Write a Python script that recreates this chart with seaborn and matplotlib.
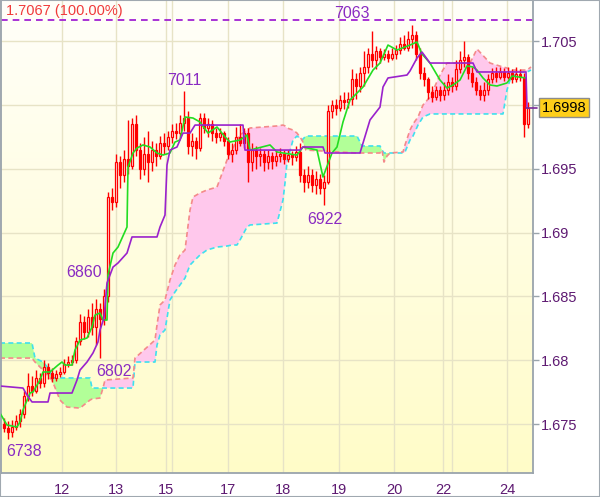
import numpy as np
import pandas as pd
import matplotlib
matplotlib.use("Agg")
import matplotlib.pyplot as plt
import matplotlib.transforms as mtransforms
from matplotlib.patches import Rectangle
import seaborn as sns

# ---------------- data (prices as pips above BASE) ----------------
BASE = 1.6
PIP = 10000.0

OPEN = [750, 747, 744, 748, 752, 758, 772, 780, 776, 786, 782, 795, 790, 786, 789, 791,
        797, 799, 800, 815, 830, 822, 834, 826, 840, 832, 850, 928, 924, 955, 945, 958,
        952, 985, 965, 950, 962, 955, 965, 960, 970, 968, 975, 980, 978, 986, 990, 968,
        972, 966, 990, 982, 985, 978, 975, 978, 972, 962, 965, 975, 970, 978, 955, 965,
        960, 962, 955, 960, 956, 960, 962, 958, 961, 959, 963, 945, 940, 945, 937, 942,
        935, 940, 995, 1000, 998, 1004, 1002, 1005, 1020, 1015, 1025, 1030, 1040, 1035, 1042, 1038,
        1040, 1037, 1040, 1043, 1048, 1045, 1052, 1055, 1040, 1025, 1020, 1010, 1006, 1012, 1008, 1012,
        1018, 1015, 1028, 1035, 1038, 1025, 1018, 1012, 1008, 1012, 1020, 1025, 1022, 1026, 1022, 1025,
        1020, 1024, 1022, 985]
CLOSE = [747, 744, 748, 752, 758, 772, 780, 776, 786, 782, 795, 790, 786, 789, 791, 797,
         799, 800, 815, 830, 822, 834, 826, 840, 832, 850, 928, 924, 955, 945, 958, 952,
         985, 965, 950, 962, 955, 965, 960, 970, 968, 975, 980, 978, 986, 990, 968, 972,
         966, 990, 982, 985, 978, 975, 978, 972, 962, 965, 975, 970, 978, 955, 965, 960,
         962, 955, 960, 956, 960, 962, 958, 961, 959, 963, 945, 940, 945, 937, 942, 935,
         940, 995, 1000, 998, 1004, 1002, 1005, 1020, 1015, 1025, 1030, 1040, 1035, 1042, 1038, 1040,
         1037, 1040, 1043, 1048, 1045, 1052, 1055, 1040, 1025, 1020, 1010, 1006, 1012, 1008, 1012, 1018,
         1015, 1028, 1035, 1038, 1025, 1018, 1012, 1008, 1012, 1020, 1025, 1022, 1026, 1022, 1025, 1020,
         1024, 1022, 985, 998]
HIGH = [755, 752, 753, 757, 762, 776, 790, 788, 792, 790, 800, 798, 794, 792, 795, 801,
        803, 804, 818, 836, 835, 840, 845, 848, 845, 856, 932, 935, 962, 960, 965, 988,
        990, 992, 970, 975, 980, 972, 970, 976, 978, 980, 985, 986, 992, 1011, 995, 978,
        975, 994, 994, 990, 988, 982, 982, 980, 975, 970, 983, 985, 982, 982, 970, 968,
        966, 965, 965, 963, 964, 966, 965, 965, 964, 968, 970, 950, 952, 950, 948, 946,
        945, 1000, 1004, 1005, 1008, 1010, 1010, 1028, 1025, 1030, 1042, 1045, 1058, 1046, 1045, 1044,
        1043, 1045, 1047, 1053, 1055, 1058, 1063, 1058, 1045, 1030, 1022, 1015, 1015, 1015, 1018, 1024,
        1022, 1035, 1042, 1050, 1040, 1030, 1022, 1016, 1018, 1024, 1029, 1030, 1030, 1029, 1030, 1028,
        1030, 1028, 1025, 1002]
LOW = [744, 738, 740, 745, 748, 755, 768, 772, 774, 778, 779, 785, 783, 784, 787, 789,
       795, 796, 798, 812, 817, 818, 820, 812, 802, 828, 846, 918, 920, 935, 940, 946,
       950, 960, 942, 945, 940, 948, 952, 958, 962, 965, 970, 973, 975, 980, 962, 960,
       958, 964, 978, 975, 972, 970, 972, 968, 958, 955, 962, 968, 966, 940, 948, 950,
       952, 948, 950, 950, 952, 955, 954, 955, 953, 956, 940, 932, 935, 932, 930, 930,
       922, 938, 990, 992, 995, 997, 998, 1000, 1005, 1010, 1015, 1025, 1030, 1028, 1033, 1035,
       1034, 1035, 1036, 1040, 1043, 1042, 1045, 1035, 1020, 1015, 1005, 1002, 1004, 1003, 1004, 1008,
       1010, 1012, 1025, 1030, 1020, 1014, 1008, 1004, 1003, 1008, 1017, 1018, 1020, 1019, 1020, 1017,
       1018, 1019, 975, 982]

# Tenkan-sen (green) vertices: bar position, pips
TENKAN_X = [-1, 0.75, 3.25, 4, 4.75, 6.5, 7.25, 9, 9.75, 11.5, 13.5, 14.5, 15.25, 17, 17.75, 19,
            20.75, 22, 22.75, 24, 24.75, 25.75, 26, 27.25, 28.5, 30.75, 31, 32.25, 33.25, 34.75, 36.5, 38.25,
            39.75, 41.5, 42.75, 44, 45.25, 47.25, 49, 51, 53.25, 55.25, 56.5, 59, 60.75, 61.5, 66.5, 68.25,
            69.75, 73.25, 74.75, 78.25, 79.75, 82, 83.25, 84.75, 86.5, 89.75, 92.25, 94, 96, 98.25, 101.5, 103.25,
            104.5, 106.5, 109, 110.75, 112.25, 114, 115.75, 117.25, 118.25, 119.75, 121.5, 123.25, 125.75, 127, 130.5]
TENKAN_Y = [758.6, 749.2, 747.7, 751.6, 761, 774.3, 775.1, 784.5, 790.8, 790.8, 796.2, 798.6, 796.2, 796.2, 808, 815.8,
            817.4, 826, 835.4, 837, 831.5, 831.5, 866.8, 884, 888.7, 904.4, 951.4, 962.4, 966.3, 968.7, 967.1, 962.4,
            960.8, 962.4, 971, 972.6, 990.6, 989.8, 986.7, 978, 982.8, 975, 971, 972.6, 976.5, 964.7, 968.7, 963.2,
            962.4, 960.8, 967.1, 964.7, 943.6, 962.4, 967.1, 986.7, 1003.9, 1014.1, 1027.4, 1032.9, 1047, 1043.1, 1047, 1049.4,
            1040, 1032.9, 1019.6, 1013.3, 1015.7, 1019.6, 1030.6, 1029.8, 1027.4, 1021.2, 1015.7, 1014.9, 1017.3, 1022.7, 1021.2]

# Kijun-sen (purple) vertices
KIJUN_X = [-1, 4.75, 5.75, 7, 11, 11.5, 17, 18.25, 19, 20.75, 22.25, 23.5, 24, 25, 25.75, 27.25,
           28.5, 30.75, 32, 38.25, 39, 40.25, 40.75, 41.5, 43.25, 44.75, 46.5, 47.75, 59.75, 60.25, 74, 74.75,
           79.75, 80.25, 89, 91.5, 94, 94.75, 96, 100.75, 101.5, 103.25, 104.5, 106.5, 117.25, 118.25, 130.5, 130.75]
KIJUN_Y = [779.8, 778.2, 772.7, 767.3, 767.3, 774.3, 774.3, 784.5, 792.3, 798.6, 805.7, 814.3, 823.7, 833.1, 860.5, 873,
           876.2, 884, 896.6, 896.6, 904.4, 913.8, 953, 964.7, 967.1, 978, 978, 984.3, 984.3, 964.7, 964.7, 967.1,
           967.1, 962.4, 962.4, 988.3, 998.4, 1014.1, 1021.2, 1023.5, 1026.7, 1036.8, 1041.5, 1032.9, 1032.9, 1025.9, 1025.9, 997.7]

# Senkou span A (cyan) and B (salmon) on common vertices
SPAN_X = [-1, 7, 7.75, 9.75, 11.5, 12, 14, 15.75, 19, 21.5, 22, 24, 24.75, 25.25, 32.25, 32.75,
          37.75, 38.25, 39, 40.25, 41.5, 42.75, 44, 45.25, 46.5, 47.25, 49, 50.75, 53.25, 55.75, 57, 58.25,
          59, 60.75, 61.5, 68.25, 69.75, 70.25, 70.75, 72.25, 73.25, 74.5, 75.5, 88.25, 89.5, 94, 94.5, 95,
          95.75, 96.5, 99.75, 100.25, 101.5, 102.25, 103.5, 104.75, 106.5, 109, 110.75, 116.5, 118.25, 121.5, 124.75, 125.75,
          126.5, 128.25, 130.75, 131.75]
SPAN_A = [813.5, 813.5, 801.7, 798.6, 792.3, 786.1, 786.1, 786.1, 786.1, 786.1, 778.2, 778.2, 778.2, 778.2, 778.2, 798.6,
          798.6, 811.9, 819.8, 823.7, 847.2, 853.5, 859, 864.4, 874.6, 877, 882.5, 886.4, 888.7, 889.5, 890.3, 890.3,
          894.2, 904.4, 906, 907.5, 925.6, 938.9, 955.3, 972.6, 975.7, 972.6, 975.7, 975.7, 967.9, 967.9, 964.7, 962.4,
          962.4, 962.4, 962.4, 963.2, 972.6, 975.7, 984.3, 990.6, 993, 993, 993, 993, 993, 993, 993, 1011.8,
          1019.6, 1025.1, 1025.9, 1027.4]
SPAN_B = [801.7, 801.7, 798.6, 792.3, 786.1, 784.5, 768.8, 763.3, 762.5, 768.8, 769.6, 770.4, 778.2, 784.5, 786.1, 801.7,
          815.8, 827.6, 843.3, 847.2, 862.9, 874.6, 882.5, 886.4, 917.7, 927.9, 931.1, 933.4, 935.7, 956.9, 964.7, 972.6,
          976.5, 980.4, 982, 983.6, 984.3, 983.6, 982, 980.4, 978, 972.6, 964.7, 962.4, 962.4, 962.4, 964.7, 955.3,
          960.0, 962.4, 963.2, 968.7, 980.4, 985.1, 990.6, 1000, 1006.3, 1023.5, 1032.9, 1032.9, 1043.9, 1032.9, 1029.8, 1029,
          1027.4, 1027.4, 1027.4, 1029.8]

X_TICK_POS = [14.5, 28, 40.5, 56, 69.75, 83.75, 97.5, 109.75, 125.75]
X_TICK_LABELS = ["12", "13", "15", "17", "18", "19", "20", "22", "24"]
EXTRA_VGRID = [42, 112]
Y_TICKS = [1.675, 1.68, 1.685, 1.69, 1.695, 1.7, 1.705]
# the 1.7 label sits behind the last-price box in the reference
Y_TICK_LABELS = ["1.675", "1.68", "1.685", "1.69", "1.695", "", "1.705"]

MAX_LINE = 1.7067
LAST_PRICE = 1.6998
MARKS = ["7063", "7011", "6922", "6860", "6802", "6738"]
MARK_X = [87, 45, 80.25, 20, 27.5, 5]
MARK_PIPS = [1072.1, 1019.6, 909.9, 869.1, 790.8, 728.1]

# ---------------- helpers ----------------
def px(vals):
    return np.array(vals, dtype=float) / PIP + BASE

o, c, h, l = px(OPEN), px(CLOSE), px(HIGH), px(LOW)
idx = np.arange(len(o))
candles = pd.DataFrame({"i": idx, "open": o, "close": c, "high": h, "low": l})

sns.set_style("white")
plt.rcParams["font.family"] = ["Liberation Sans", "DejaVu Sans"]

fig = plt.figure(figsize=(6.0, 4.97), dpi=100)
fig.patch.set_facecolor("white")
ax = fig.add_axes([1 / 600, 24 / 497, 532 / 600, 473 / 497])

XLIM = (-0.75, 132.25)
YLIM = (1.671163, 1.708230)
ax.set_xlim(*XLIM)
ax.set_ylim(*YLIM)

# background gradient
grad = np.linspace(0, 1, 256)[:, None]
top = np.array([255, 255, 250]) / 255.0
bot = np.array([255, 252, 200]) / 255.0
img = top[None, None, :] * (1 - grad[:, :, None]) + bot[None, None, :] * grad[:, :, None]
ax.imshow(img, extent=[XLIM[0], XLIM[1], YLIM[0], YLIM[1]], aspect="auto", origin="upper", zorder=0)

# grid
gcol = "#E7E3C6"
for yv in Y_TICKS:
    ax.axhline(yv, color=gcol, lw=1.0, zorder=0.5)
for xv in X_TICK_POS + EXTRA_VGRID:
    ax.axvline(xv, color=gcol, lw=1.0, zorder=0.5)

# cloud
sx = np.array(SPAN_X)
sa = px(SPAN_A)
sb = px(SPAN_B)
ax.fill_between(sx, sa, sb, where=sa >= sb, interpolate=True, color="#B2FF98", lw=0, zorder=1)
ax.fill_between(sx, sa, sb, where=sb >= sa, interpolate=True, color="#FFC8EC", lw=0, zorder=1)
ax.plot(sx, sa, color="#3FE0EE", lw=1.2, ls=(0, (3, 2)), zorder=1.5)
ax.plot(sx, sb, color="#F48A8A", lw=1.2, ls=(0, (3, 2)), zorder=1.5)

# top dashed max line
ax.axhline(MAX_LINE, color="#9A10D0", lw=1.2, ls=(0, (4, 3)), zorder=2)

# candles
up = candles[candles.close >= candles.open]
dn = candles[candles.close < candles.open]
ax.vlines(candles.i, candles.low, candles.high, color="#FF0000", lw=1.0, zorder=3)
W = 0.62
ax.bar(up.i, up.close - up.open, bottom=up.open, width=W, facecolor="#FFF0F0",
       edgecolor="#FF0000", lw=0.9, zorder=3.2)
ax.bar(dn.i, dn.open - dn.close, bottom=dn.close, width=W, facecolor="#FF0000",
       edgecolor="#FF0000", lw=0.9, zorder=3.2)

# tenkan / kijun
sns.lineplot(x=TENKAN_X, y=px(TENKAN_Y), ax=ax, color="#22DD22", lw=1.2,
             estimator=None, sort=False, legend=False, zorder=4)
sns.lineplot(x=KIJUN_X, y=px(KIJUN_Y), ax=ax, color="#9A22CC", lw=1.2,
             estimator=None, sort=False, legend=False, zorder=4)

# marks
for txt, mx, mp in zip(MARKS, MARK_X, MARK_PIPS):
    ax.text(mx, BASE + mp / PIP, txt, color="#8A2BC2", fontsize=11.5,
            ha="center", va="center", zorder=6)

ax.text(0.5, MAX_LINE + 0.00065, "1.7067 (100.00%)", color="#F03A3A", fontsize=10.5,
        ha="left", va="center", zorder=6)

# axes styling
for s in ax.spines.values():
    s.set_color("#9AA4AC")
    s.set_linewidth(1.3)
ax.yaxis.tick_right()
ax.set_yticks(Y_TICKS)
ax.set_yticklabels(Y_TICK_LABELS)
ax.set_xticks(X_TICK_POS)
ax.set_xticklabels(X_TICK_LABELS)
ax.tick_params(axis="both", direction="out", length=4, width=1, color="#9AA4AC",
               labelcolor="#5E1A72", labelsize=10.5, pad=2)
ax.tick_params(axis="x", pad=3)
ax.set_xlabel("")
ax.set_ylabel("")

# last price box
trans = mtransforms.blended_transform_factory(ax.transAxes, ax.transData)
ax.plot([130.6, 133.3], [LAST_PRICE, LAST_PRICE], color="#7A2A9A", lw=1.2, clip_on=False, zorder=6)
ax.text(1.0165, LAST_PRICE, "1.6998", transform=trans, fontsize=10.5, color="black",
        ha="left", va="center", zorder=10,
        bbox=dict(boxstyle="square,pad=0.18", fc="#FFCF1A", ec="#8C8C8C", lw=1))

# outer border
fig.patches.append(Rectangle((0, 0), 1, 1, transform=fig.transFigure, fill=False,
                             ec="#A0A8B0", lw=1.5))

fig.savefig("out.png", dpi=100)
